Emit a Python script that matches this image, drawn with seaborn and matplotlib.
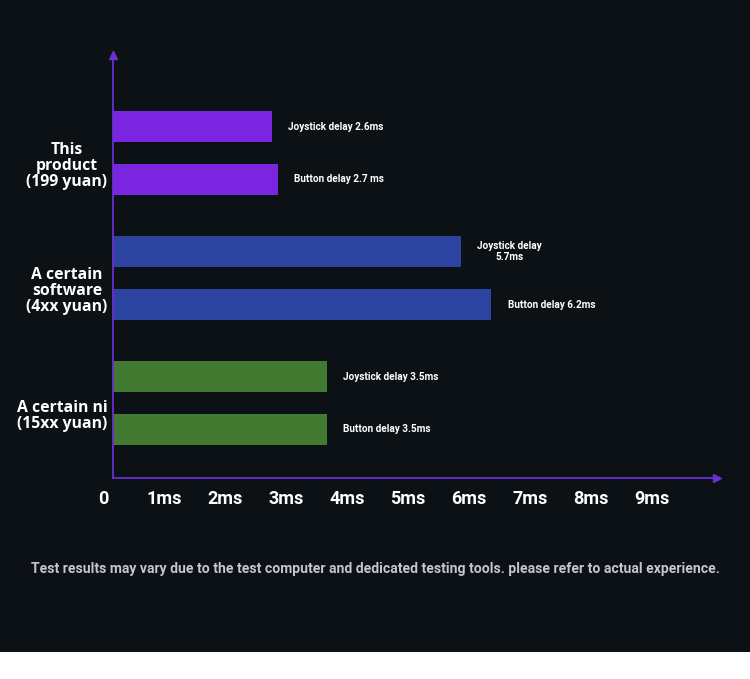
import numpy as np
import pandas as pd
import seaborn as sns
import matplotlib.pyplot as plt
import matplotlib.transforms as mtransforms
from matplotlib.patches import Rectangle

sns.set_style('dark')

# data
groups = ["This\nproduct\n(199 yuan)", "A certain\nsoftware\n(4xx yuan)", "A certain ni\n(15xx yuan)"]
joystick = [2.6, 5.7, 3.5]
button = [2.7, 6.2, 3.5]
joystick_labels = ["Joystick delay 2.6ms", "Joystick delay\n5.7ms", "Joystick delay 3.5ms"]
button_labels = ["Button delay 2.7 ms", "Button delay 6.2ms", "Button delay 3.5ms"]
tick_values = [0, 1, 2, 3, 4, 5, 6, 7, 8, 9]
tick_labels = ["0", "1ms", "2ms", "3ms", "4ms", "5ms", "6ms", "7ms", "8ms", "9ms"]
group_colors = ["#7a25e0", "#2c43a0", "#437a32"]
note = "Test results may vary due to the test computer and dedicated testing tools. please refer to actual experience."

bg = "#0c1116"
axis_color = "#6a30d0"

df = pd.DataFrame({
    "group": groups * 2,
    "kind": ["Joystick"] * 3 + ["Button"] * 3,
    "value": joystick + button,
})

fig = plt.figure(figsize=(7.5, 6.79), dpi=100, facecolor=bg)
ax = fig.add_axes([113 / 750, 201 / 679, 604 / 750, 423 / 679])
ax.set_facecolor(bg)

sns.barplot(data=df, x="value", y="group", hue="kind", orient="h",
            width=0.848, gap=0.415, saturation=1, legend=False, ax=ax)

# recolor bars by group
for cont in ax.containers:
    for bar in cont:
        idx = int(round(bar.get_y() + bar.get_height() / 2))
        bar.set_facecolor(group_colors[idx])
        bar.set_edgecolor("none")

for cont, labs in zip(ax.containers, [joystick_labels, button_labels]):
    ax.bar_label(cont, labels=labs, padding=12, color="white", fontsize=7.2,
                 fontweight="bold", family=["Roboto", "DejaVu Sans"], multialignment="center")

ax.set_xlim(0, 9.9)
ax.set_ylim(2.6, -0.784)
ax.set_xlabel("")
ax.set_ylabel("")
ax.grid(False)

ax.set_xticks(tick_values)
ax.set_xticklabels(tick_labels, color="white", fontsize=13, fontweight="bold",
                   family=["Liberation Sans Narrow", "Roboto"])
ax.tick_params(axis="x", length=0, pad=9)
xoff = mtransforms.ScaledTranslation(-10 / 100, 0, fig.dpi_scale_trans)
for lab in ax.get_xticklabels():
    lab.set_transform(lab.get_transform() + xoff)

ax.set_yticks([0, 1, 2])
ax.set_yticklabels(groups, color="white", fontsize=11.3, fontweight="bold",
                   family=["Open Sans", "DejaVu Sans"], linespacing=1.02)
ax.tick_params(axis="y", length=0, pad=4)
yoff = mtransforms.ScaledTranslation(0, -11 / 100, fig.dpi_scale_trans)
for lab in ax.get_yticklabels():
    lab.set_multialignment("center")
    lab.set_transform(lab.get_transform() + yoff)

for side in ["top", "right"]:
    ax.spines[side].set_visible(False)
for side in ["left", "bottom"]:
    ax.spines[side].set_visible(True)
    ax.spines[side].set_color(axis_color)
    ax.spines[side].set_linewidth(1.3)

# arrow heads
ax.plot(1, 0, marker=">", color=axis_color, markersize=6, transform=ax.transAxes, clip_on=False)
ax.plot(0, 1, marker="^", color=axis_color, markersize=6, transform=ax.transAxes, clip_on=False)

fig.text(0.5, 1 - 569 / 679, note, ha="center", va="center", color="#c3c6ca",
         fontsize=10.1, fontweight="bold", family=["Roboto", "DejaVu Sans"])

fig.patches.append(Rectangle((0, 0), 1, 27 / 679, transform=fig.transFigure,
                             facecolor="white", edgecolor="none"))

plt.savefig("out.png", dpi=100, facecolor=bg)
